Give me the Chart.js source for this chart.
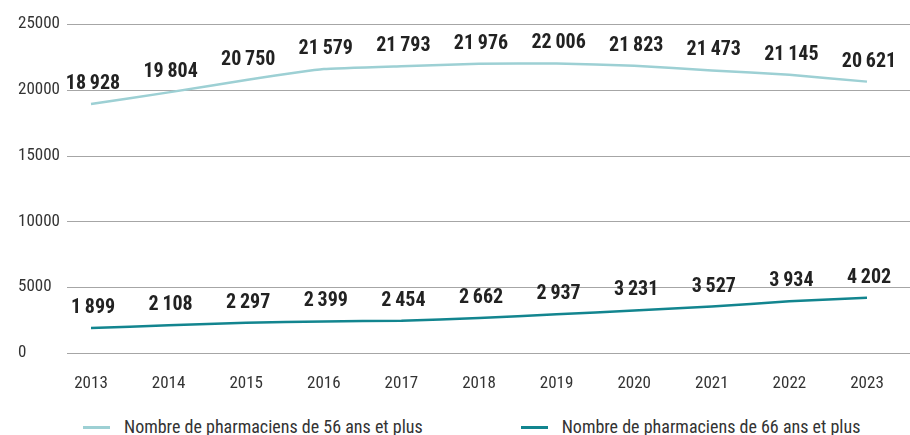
<!DOCTYPE html>
<html>
<head>
<meta charset="utf-8">
<script src="https://cdn.jsdelivr.net/npm/chart.js@4"></script>
<style>
  html, body { margin: 0; padding: 0; background: #fff; }
  #wrap { width: 910px; height: 435px; position: relative; }
  #box { width: 910px; height: 400px; position: relative; }
  #legend {
    position: absolute; left: 83px; top: 416px;
    display: flex; align-items: center; gap: 98px;
    font-family: 'Roboto Condensed', 'Liberation Sans Narrow', sans-serif;
    font-size: 18px; line-height: 22px; color: #333; white-space: nowrap;
  }
  #legend .item { display: flex; align-items: center; }
  #legend .swatch { width: 27px; height: 3px; margin-right: 14px; }
</style>
</head>
<body>
<div id="wrap">
  <div id="box"><canvas id="chart"></canvas></div>
  <div id="legend"></div>
</div>
<script>
'use strict';

const years = ['2013', '2014', '2015', '2016', '2017', '2018', '2019', '2020', '2021', '2022', '2023'];
const plus56 = [18928, 19804, 20750, 21579, 21793, 21976, 22006, 21823, 21473, 21145, 20621];
const plus66 = [1899, 2108, 2297, 2399, 2454, 2662, 2937, 3231, 3527, 3934, 4202];
const yTicks = [0, 5000, 10000, 15000, 20000, 25000];

const FONT = "'Roboto Condensed', 'Liberation Sans Narrow', 'DejaVu Sans Condensed', sans-serif";

// séparateur de milliers fin, comme dans l'original
function fmt(v) {
    return String(v).replace(/\B(?=(\d{3})+(?!\d))/g, '\u2009');
}

// lignes horizontales qui débordent à gauche de la zone du graphique
const gridLines = {
    id: 'gridLines',
    beforeDatasetsDraw(chart) {
        const { ctx, scales: { y } } = chart;
        ctx.save();
        ctx.strokeStyle = '#a6a6a6';
        ctx.lineWidth = 1.2;
        yTicks.forEach(v => {
            const py = Math.round(y.getPixelForValue(v)) + 0.5;
            ctx.beginPath();
            ctx.moveTo(67, py);
            ctx.lineTo(chart.width, py);
            ctx.stroke();
        });
        ctx.restore();
    }
};

// valeurs au-dessus des points
const valueLabels = {
    id: 'valueLabels',
    afterDatasetsDraw(chart) {
        const { ctx } = chart;
        ctx.save();
        ctx.font = 'bold 20px ' + FONT;
        ctx.fillStyle = '#222';
        ctx.textAlign = 'center';
        ctx.textBaseline = 'middle';
        chart.data.datasets.forEach((ds, i) => {
            chart.getDatasetMeta(i).data.forEach((pt, j) => {
                ctx.fillText(fmt(ds.data[j]), pt.x + 2, pt.y - 20);
            });
        });
        ctx.restore();
    }
};

// légende HTML construite à partir des jeux de données
const htmlLegend = {
    id: 'htmlLegend',
    afterUpdate(chart) {
        const el = document.getElementById('legend');
        el.innerHTML = '';
        chart.data.datasets.forEach(ds => {
            const item = document.createElement('div');
            item.className = 'item';
            const sw = document.createElement('span');
            sw.className = 'swatch';
            sw.style.background = ds.borderColor;
            const txt = document.createElement('span');
            txt.textContent = ds.label;
            item.appendChild(sw);
            item.appendChild(txt);
            el.appendChild(item);
        });
    }
};

new Chart(document.getElementById('chart'), {
    type: 'line',
    data: {
        labels: years,
        datasets: [{
            label: 'Nombre de pharmaciens de 56 ans et plus',
            data: plus56,
            borderColor: '#9dd0d4',
            borderWidth: 2.5,
            pointRadius: 0,
            tension: 0.1
        }, {
            label: 'Nombre de pharmaciens de 66 ans et plus',
            data: plus66,
            borderColor: '#12858f',
            borderWidth: 2.5,
            pointRadius: 0,
            tension: 0.1
        }]
    },
    options: {
        responsive: true,
        maintainAspectRatio: false,
        animation: false,
        layout: { padding: { left: 18, right: 43, top: 24, bottom: 0 } },
        plugins: {
            legend: { display: false },
            tooltip: { enabled: false }
        },
        scales: {
            x: {
                offset: false,
                grid: { display: false },
                border: { display: false },
                afterFit(scale) { scale.height = 47; },
                ticks: { color: '#333', padding: 13, font: { family: FONT, size: 17 } }
            },
            y: {
                min: 0,
                max: 25000,
                grid: { display: false },
                border: { display: false },
                afterFit(scale) { scale.width = 73; },
                afterBuildTicks(scale) { scale.ticks = yTicks.map(v => ({ value: v })); },
                ticks: {
                    crossAlign: 'far',
                    color: '#333',
                    font: { family: FONT, size: 17 },
                    callback: v => String(v)
                }
            }
        }
    },
    plugins: [gridLines, valueLabels, htmlLegend]
});
</script>
</body>
</html>
